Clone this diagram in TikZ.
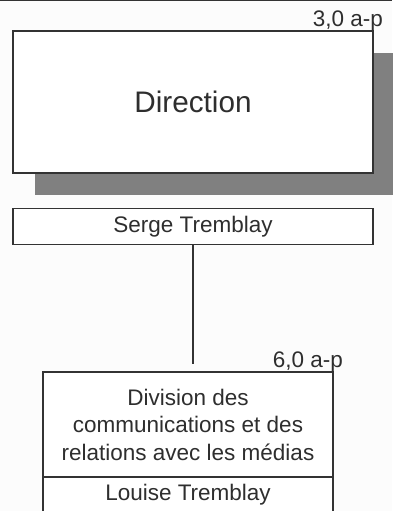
\documentclass[tikz,border=0pt]{standalone}
\usepackage{fontspec}
\setmainfont{Liberation Sans}
\usetikzlibrary{positioning,shadows}
\definecolor{pagebg}{HTML}{FCFCFC}
\definecolor{framegray}{HTML}{333333}
\definecolor{shadegray}{HTML}{808080}
\definecolor{inkgray}{HTML}{2E2E2E}

\begin{document}
\begin{tikzpicture}[x=1pt,y=-1pt,
	orgbox/.style={draw=framegray,line width=1.3pt,fill=white,text=inkgray,align=center,inner sep=0pt,outer sep=0pt,
		font=\fontsize{22.5}{27.5}\selectfont},
	apnote/.style={anchor=base east,inner sep=0pt,text=inkgray,font=\fontsize{22.5}{27.5}\selectfont}]
			\useasboundingbox (0,0) rectangle (392,511);
			\fill[pagebg] (0,0) rectangle (392,511);
			\draw[framegray,line width=1.5pt] (0,0.75) -- (392,0.75);
			
			\node[orgbox,minimum width=360pt,minimum height=142pt,font=\fontsize{29.7}{34}\selectfont,
				drop shadow={shadow xshift=22pt,shadow yshift=-22pt,fill=shadegray,opacity=1}]
				(direction) at (193,102) {Direction};
			\node[apnote] (apdir) at ([shift={(10,-4)}]direction.north east) {3,0 a-p};
			
			\node[orgbox,minimum width=360pt,minimum height=36pt] (serge) at (193,226.5) {Serge Tremblay};
			\coordinate (linkend) at (193,364);
			\draw[framegray,line width=1.3pt] (serge.south) -- (linkend);
			
			\node[orgbox,minimum width=290pt,minimum height=105pt] (division) at (188,424.5)
				{Division des\\communications et des\\relations avec les médias};
			\node[orgbox,minimum width=290pt,minimum height=36pt,below=0pt of division] (louise) {Louise Tremblay};
			\node[apnote] (apdiv) at ([shift={(10,-4.5)}]division.north east) {6,0 a-p};
\end{tikzpicture}
\end{document}
